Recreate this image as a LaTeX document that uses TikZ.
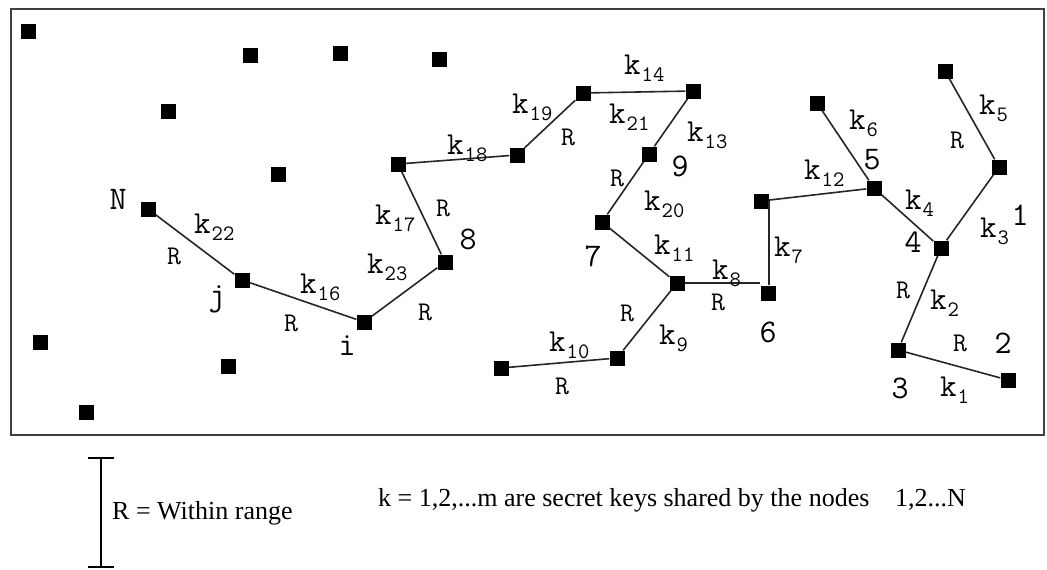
\documentclass[tikz,border=0pt]{standalone}
\usepackage{fontspec}
\setmainfont{Liberation Serif}
% key label: k with a lowered, smaller index
\newcommand\kk[1]{k\kern1pt\raisebox{-7pt}{\fontsize{22}{22}\selectfont #1}}
\begin{document}
\begin{tikzpicture}[x=1pt,y=-1pt,
  sensor/.style={rectangle,fill=black,minimum size=15pt,inner sep=0pt},
  link/.style={line width=1.6pt,draw=black!85},
  keylab/.style={anchor=base west,inner sep=0pt,font=\ttfamily\fontsize{32}{32}\selectfont},
  rlab/.style={inner sep=0pt,font=\ttfamily\fontsize{27}{27}\selectfont},
  idlab/.style={inner sep=0pt,font=\ttfamily\fontsize{33}{33}\selectfont},
  note/.style={inner sep=0pt,anchor=base west,font=\fontsize{26}{26}\selectfont}]
\useasboundingbox (0,0) rectangle (1047,570);
\fill[white] (0,0) rectangle (1047,570);
% field border
\draw[line width=2.5pt,draw=black!75] (11,9) rectangle (1044,435);

% sensors outside the chain
\node[sensor] (s1) at (28,31) {};
\node[sensor] (s2) at (250,55) {};
\node[sensor] (s3) at (340,53) {};
\node[sensor] (s4) at (168,111) {};
\node[sensor] (s5) at (278,174) {};
\node[sensor] (s6) at (439,59) {};
\node[sensor] (s7) at (40,342) {};
\node[sensor] (s8) at (228,366) {};
\node[sensor] (s9) at (86,412) {};

% sensors on the chain
\node[sensor] (nN) at (148,209) {};
\node[sensor] (nj) at (242,280) {};
\node[sensor] (ni) at (364,322) {};
\node[sensor] (n8) at (445,262) {};
\node[sensor] (pa) at (398,164) {};
\node[sensor] (pb) at (517,155) {};
\node[sensor] (pc) at (583,93) {};
\node[sensor] (pd) at (693,91) {};
\node[sensor] (n9) at (649,154) {};
\node[sensor] (n7) at (602,222) {};
\node[sensor] (hub) at (677,283) {};
\node[sensor] (pe) at (617,358) {};
\node[sensor] (pf) at (501,368) {};
\node[sensor] (n6) at (768,293) {};
\node[sensor] (pg) at (761,201) {};
\node[sensor] (n5) at (874,188) {};
\node[sensor] (ph) at (817,103) {};
\node[sensor] (n4) at (941,248) {};
\node[sensor] (n1) at (999,167) {};
\node[sensor] (pk) at (945,71) {};
\node[sensor] (n3) at (898,350) {};
\node[sensor] (n2) at (1008,380) {};

% links between neighbours within range
\draw[link] (nN) -- (nj);
\draw[link] (nj) -- (ni);
\draw[link] (ni) -- (n8);
\draw[link] (n8) -- (pa);
\draw[link] (pa) -- (pb);
\draw[link] (pb) -- (pc);
\draw[link] (pc) -- (pd);
\draw[link] (pd) -- (n9);
\draw[link] (n9) -- (n7);
\draw[link] (n7) -- (hub);
\draw[link] (hub) -- (hub -| n6.north west);
\draw[link] (hub) -- (pe);
\draw[link] (pe) -- (pf);
\draw[link] (pg.east) -- (pg.east |- n6.north);
\draw[link] (pg) -- (n5);
\draw[link] (n5) -- (ph);
\draw[link] (n5) -- (n4);
\draw[link] (n4) -- (n1);
\draw[link] (n1) -- (pk);
\draw[link] (n4) -- (n3);
\draw[link] (n3) -- (n2);

% key labels
\node[keylab] (k22) at (194,233) {\kk{22}};
\node[keylab] (k16) at (300,293) {\kk{16}};
\node[keylab] (k23) at (367,273) {\kk{23}};
\node[keylab] (k17) at (375,224) {\kk{17}};
\node[keylab] (k18) at (447,154) {\kk{18}};
\node[keylab] (k19) at (512,113) {\kk{19}};
\node[keylab] (k14) at (624,74) {\kk{14}};
\node[keylab] (k21) at (609,123) {\kk{21}};
\node[keylab] (k13) at (687,141) {\kk{13}};
\node[keylab] (k20) at (644,210) {\kk{20}};
\node[keylab] (k11) at (654,254) {\kk{11}};
\node[keylab] (k9) at (659,344) {\kk{9}};
\node[keylab] (k10) at (549,351) {\kk{10}};
\node[keylab] (k8) at (712,279) {\kk{8}};
\node[keylab] (k7) at (774,256) {\kk{7}};
\node[keylab] (k12) at (804,179) {\kk{12}};
\node[keylab] (k6) at (849,129) {\kk{6}};
\node[keylab] (k5) at (979,114) {\kk{5}};
\node[keylab] (k4) at (905,209) {\kk{4}};
\node[keylab] (k3) at (980,237) {\kk{3}};
\node[keylab] (k2) at (930,309) {\kk{2}};
\node[keylab] (k1) at (940,396) {\kk{1}};

% range labels
\node[rlab] (r1) at (174,256) {R};
\node[rlab] (r2) at (291,323) {R};
\node[rlab] (r3) at (425,312) {R};
\node[rlab] (r4) at (443,208) {R};
\node[rlab] (r5) at (568,137) {R};
\node[rlab] (r6) at (617,178) {R};
\node[rlab] (r7) at (627,313) {R};
\node[rlab] (r8) at (718,302) {R};
\node[rlab] (r9) at (562,386) {R};
\node[rlab] (r10) at (957,140) {R};
\node[rlab] (r11) at (903,290) {R};
\node[rlab] (r12) at (960,343) {R};

% node identifiers
\node[idlab] (tN) at (118,199) {N};
\node[idlab] (tj) at (217,299) {j};
\node[idlab] (ti) at (347,346) {i};
\node[idlab] (t8) at (468,239) {8};
\node[idlab] (t9) at (680,166) {9};
\node[idlab] (t7) at (593,256) {7};
\node[idlab] (t6) at (768,332) {6};
\node[idlab] (t5) at (872,160) {5};
\node[idlab] (t4) at (913,242) {4};
\node[idlab] (t1) at (1020,215) {1};
\node[idlab] (t2) at (1003,343) {2};
\node[idlab] (t3) at (900,388) {3};

% legend: range bar and notes
\coordinate (bt) at (101,458);
\coordinate (bb) at (101,567);
\draw[line width=2pt] (bt) -- (bb);
\draw[line width=2pt] ([xshift=-13pt]bt) -- ([xshift=13pt]bt);
\draw[line width=2pt] ([xshift=-13pt]bb) -- ([xshift=13pt]bb);
\node[note] (legR) at (112,519) {R = Within range};
\node[note] (legK) at (378,506) {k = 1,2,...m are secret keys shared by the nodes};
\node[note] (legN) at (895,506) {1,2...N};
\end{tikzpicture}
\end{document}
